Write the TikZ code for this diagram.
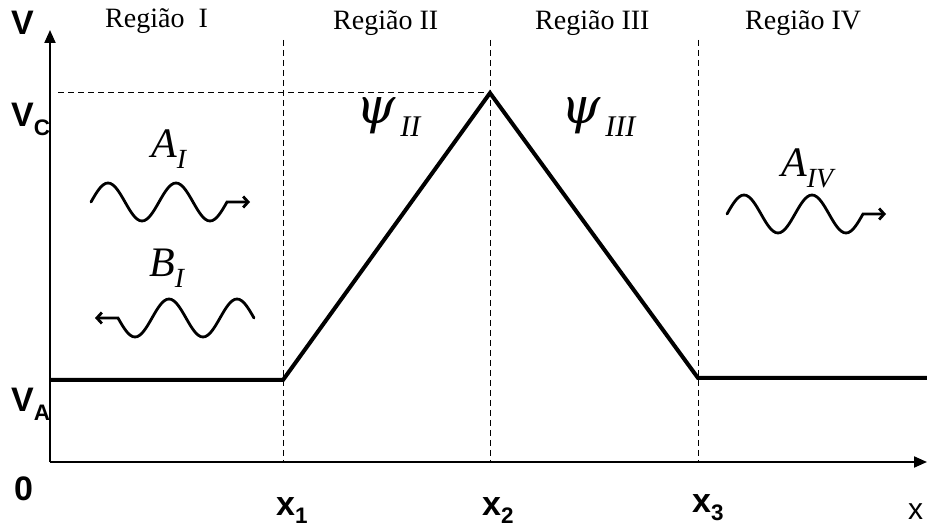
\documentclass[tikz,border=0pt]{standalone}
\usepackage{fontspec}
\setmainfont{Liberation Serif}
\setsansfont{Liberation Sans}
\newfontfamily\psifont{DejaVu Serif}
\usetikzlibrary{arrows.meta}
\newcommand\sublbl[2]{#1\raisebox{-0.24em}{\scalebox{0.66}{#2}}}

\begin{document}
\begin{tikzpicture}[x=1pt, y=-1pt,
    axis/.style={line width=2pt, -{Triangle[length=13pt,width=11pt]}},
    pot/.style={line width=4pt, line join=miter},
    guide/.style={line width=1pt, dash pattern=on 6pt off 4pt},
    axlbl/.style={font=\fontsize{34}{34}\selectfont\sffamily\bfseries, inner sep=0pt, anchor=base west},
    reglbl/.style={font=\fontsize{28}{28}\selectfont, inner sep=0pt, anchor=base west},
    wavelbl/.style={font=\fontsize{42}{42}\selectfont\itshape, inner sep=0pt, anchor=base west},
    psilbl/.style={font=\fontsize{50}{50}\selectfont\psifont\itshape, inner sep=0pt, anchor=base west},
    wavearr/.style={line width=2.8pt, line cap=round, -{Straight Barb[length=5pt,width=11pt]}},
    wave/.pic={\draw[wavearr] (0,0) sin (17,-19) cos (34,0) sin (51,19) cos (68,0)
        sin (85,-19) cos (102,0) sin (119,19) cos (136,0) -- (159,0);}
]
\useasboundingbox (0,0) rectangle (927,529);

% eixos
\coordinate (orig) at (50,462);
\coordinate (ytip) at (50,30);
\coordinate (xtip) at (927,462);
\draw[axis] (orig) -- (ytip);
\draw[axis] (orig) -- (xtip);

% linhas de divisao
\coordinate (x1top) at (283,40);  \coordinate (x1bot) at (283,462);
\coordinate (x2top) at (490,40);  \coordinate (x2bot) at (490,462);
\coordinate (x3top) at (698,40);  \coordinate (x3bot) at (698,462);
\coordinate (vcleft) at (58,93);
\draw[guide] (x1top) -- (x1bot);
\draw[guide] (x2top) -- (x2bot);
\draw[guide] (x3top) -- (x3bot);

% potencial
\coordinate (pa) at (50,380);
\coordinate (pb) at (283,380);
\coordinate (pc) at (490,93);
\coordinate (pd) at (698,378);
\coordinate (pe) at (927,378);
\draw[guide] (vcleft) -- (pc);
\draw[pot] (pa) -- (pb) -- (pc) -- (pd) -- (pe);

% rotulos dos eixos
\node[axlbl] (lv) at (11,35) {V};
\node[axlbl] (lvc) at (11,127) {\sublbl{V}{C}};
\node[axlbl] (lva) at (11,412) {\sublbl{V}{A}};
\node[axlbl] (lzero) at (14,500) {0};
\node[axlbl] (lx1) at (276,515) {\sublbl{x}{1}};
\node[axlbl] (lx2) at (482,515) {\sublbl{x}{2}};
\node[axlbl] (lx3) at (692,512) {\sublbl{x}{3}};
\node[axlbl, font=\fontsize{30}{30}\selectfont\sffamily] (lx) at (908,519) {x};

% regioes
\node[reglbl] (reg1) at (105,28) {Região\ \ I};
\node[reglbl] (reg2) at (333,30) {Região II};
\node[reglbl] (reg3) at (535,30) {Região III};
\node[reglbl] (reg4) at (745,30) {Região IV};

% funcoes de onda
\node[psilbl] (psi2) at (356,124) {ψ\raisebox{-0.25em}{\fontsize{30}{30}\selectfont\rmfamily\itshape\,II}};
\node[psilbl] (psi3) at (561,124) {ψ\raisebox{-0.25em}{\fontsize{30}{30}\selectfont\rmfamily\itshape\,III}};
\node[wavelbl] (ai) at (151,158) {\sublbl{A}{I}};
\node[wavelbl] (bi) at (149,277) {\sublbl{B}{I}};
\node[wavelbl] (aiv) at (781,177) {\sublbl{A}{IV}};

\pic at (91,202) {wave};
\pic[xscale=-1] at (254,318) {wave};
\pic at (727,214) {wave};
\end{tikzpicture}
\end{document}
